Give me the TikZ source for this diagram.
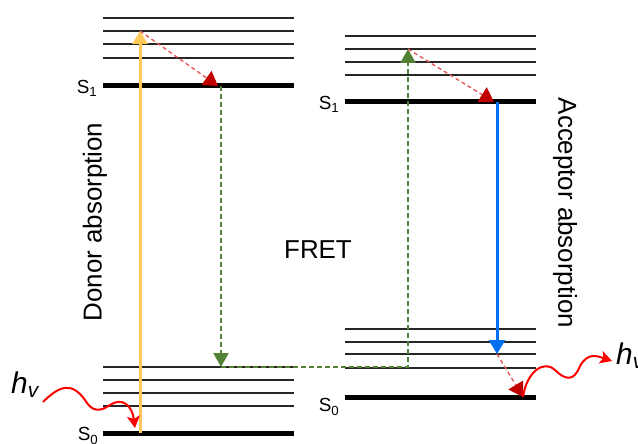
\documentclass[tikz,border=0pt]{standalone}
\usepackage{fontspec}
\setmainfont{Liberation Sans}
\usepackage{xcolor}
\usetikzlibrary{arrows.meta}
\definecolor{fyellow}{RGB}{255,200,90}
\definecolor{fgreen}{RGB}{84,130,53}
\definecolor{fred}{RGB}{230,90,90}
\definecolor{fdarkred}{RGB}{192,0,0}
\definecolor{fblue}{RGB}{0,112,240}

\begin{document}
\begin{tikzpicture}[
  x=1bp,y=-1bp,
  font=\fontsize{26}{30}\selectfont,
  vib/.style={line width=1.5bp,black!85},
  elec/.style={line width=5bp},
  lbl/.style={font=\fontsize{19}{21}\selectfont,inner sep=0pt},
  absorb/.style={line width=3bp,fyellow,-{Triangle[length=13bp,width=15bp]}},
  relax/.style={line width=1.4bp,fred,dash pattern=on 4bp off 3bp,-{Triangle[length=14bp,width=17bp,color=fdarkred]}},
  transfer/.style={line width=2bp,fgreen,dash pattern=on 5bp off 3bp},
  green tip/.style={-{Triangle[length=14bp,width=15bp]}},
  emit/.style={line width=3bp,fblue,-{Triangle[length=14bp,width=16bp]}},
  wave/.style={line width=2bp,red,-{Stealth[length=12bp,width=13bp,inset=3bp]}},
  hv/.style={font=\fontsize{30}{32}\selectfont,inner sep=0pt}
]
\useasboundingbox (0,0) rectangle (638,444);
% donor levels
\foreach \y in {18,31,44,58,367,380,393,406}
  \draw[vib] (103,\y) -- (294,\y);
\draw[elec] (103,86) -- (294,86);
\draw[elec] (103,433) -- (294,433);
\node[lbl] (dS1) at (87,88) {S\textsubscript{1}};
\node[lbl] (dS0) at (88,436) {S\textsubscript{0}};
% acceptor levels
\foreach \y in {36,49,62,75,329,342,354,368}
  \draw[vib] (345,\y) -- (536,\y);
\draw[elec] (345,102) -- (536,102);
\draw[elec] (345,397) -- (536,397);
\node[lbl] (aS1) at (329,104) {S\textsubscript{1}};
\node[lbl] (aS0) at (329,407) {S\textsubscript{0}};
% end points
\coordinate (d0) at (140,433);
\coordinate (dv) at (140,31);
\coordinate (d1) at (221,86);
\coordinate (dlow) at (221,367);
\coordinate (a0) at (408,367);
\coordinate (av) at (408,49);
\coordinate (a1) at (497,102);
\coordinate (alow) at (497,354);
\coordinate (aS0pt) at (523,397);
\coordinate (wl) at (43,402);
\coordinate (wr) at (612,361);
% texts
\node[rotate=90] (donor) at (95,222) {Donor absorption};
\node[rotate=-90] (acceptor) at (565,213) {Acceptor absorption};
\node (fret) at (318,250) {FRET};
\node[hv,anchor=east] (hvL) at (40,385) {\textit{h}\textsubscript{\textit{v}}};
\node[hv,anchor=west] (hvR) at (616,356) {\textit{h}\textsubscript{\textit{v}}};
% transitions
\draw[absorb] (d0) -- (dv);
\draw[relax] (dv) -- ([xshift=-3bp]d1);
\draw[transfer,green tip] (d1) -- (dlow);
\draw[transfer,green tip] (dlow) -- (a0) -- (av);
\draw[relax] (av) -- ([xshift=-3bp]a1);
\draw[emit] (a1) -- (alow);
\draw[relax] (alow) -- (aS0pt);
\draw[wave] (wl) .. controls (60,385) and (72,382) .. (85,400)
  .. controls (92,412) and (100,412) .. (110,405)
  .. controls (122,397) and (132,405) .. (135,428);
\draw[wave] (aS0pt) .. controls (527,370) and (545,360) .. (555,370)
  .. controls (565,380) and (574,382) .. (580,366)
  .. controls (588,352) and (597,356) .. (wr);
\end{tikzpicture}
\end{document}
